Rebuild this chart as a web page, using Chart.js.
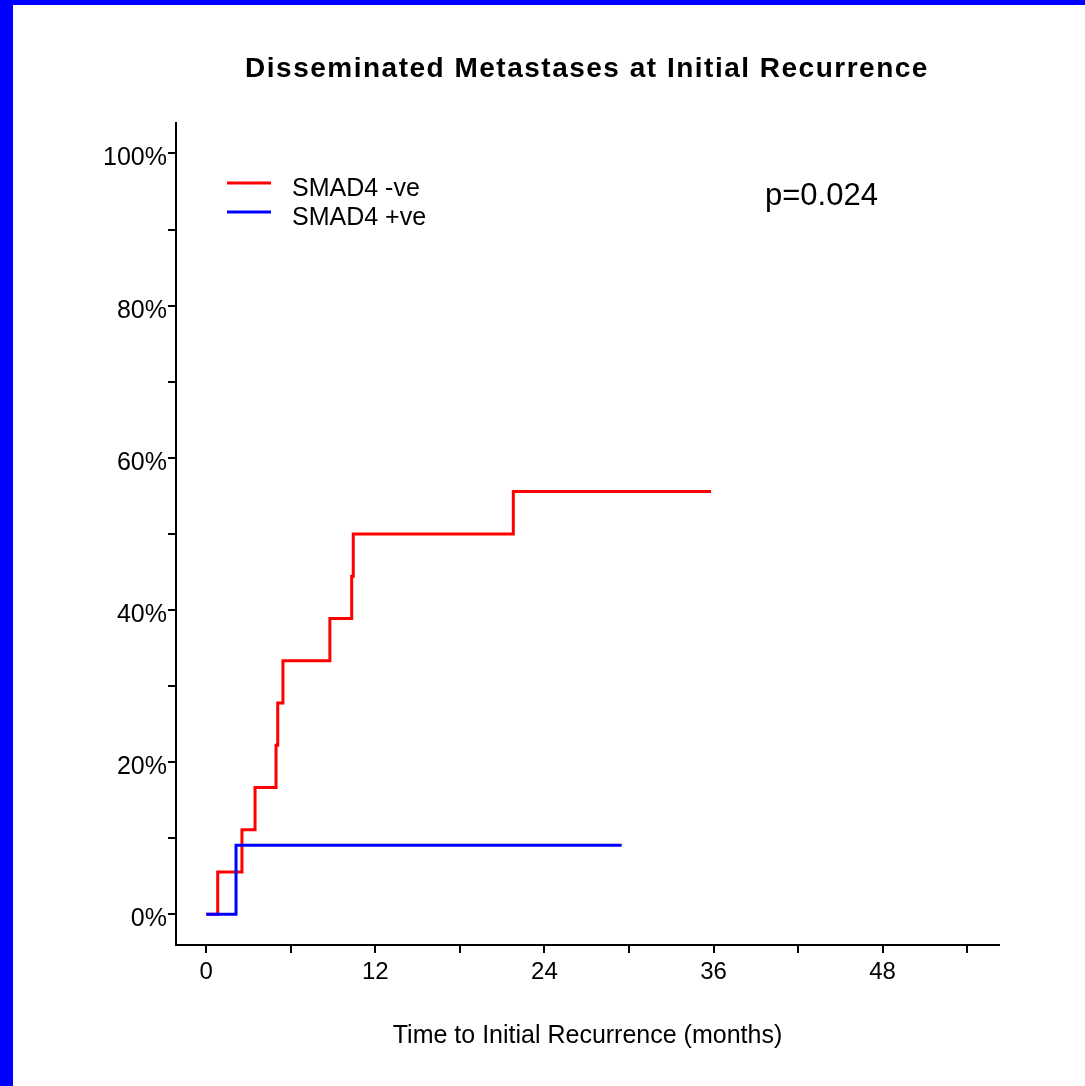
<!DOCTYPE html>
<html>
<head>
<meta charset="utf-8">
<script src="https://cdn.jsdelivr.net/npm/chart.js@4.4.1/dist/chart.umd.min.js"></script>
<style>
  html, body { margin: 0; padding: 0; background: #0000ff; }
  #wrap { position: absolute; left: 13px; top: 5px; width: 1072px; height: 1081px; background: #fff; }
</style>
</head>
<body>
<div id="wrap"><canvas id="km"></canvas></div>
<script>
// datos (meses, % acumulado)
const negTiempo = [0, 0.81, 2.53, 3.46, 4.95, 5.07, 5.44, 8.77, 10.32, 10.43, 21.79, 35.82]
const negPct = [0, 5.56, 11.11, 16.67, 22.22, 27.78, 33.33, 38.89, 44.44, 50.0, 55.56, 55.56]
const posTiempo = [0, 2.11, 29.48]
const posPct = [0, 9.09, 9.09]

const grupos = ['SMAD4 -ve', 'SMAD4 +ve']
const ticksX = [0, 6, 12, 18, 24, 30, 36, 42, 48, 54]
const etiquetasX = ['0', '', '12', '', '24', '', '36', '', '48', '']
const ticksY = [0, 10, 20, 30, 40, 50, 60, 70, 80, 90, 100]
const etiquetasY = ['0%', '', '20%', '', '40%', '', '60%', '', '80%', '', '100%']

const titulo = 'Disseminated Metastases at Initial Recurrence'
const tituloX = 'Time to Initial Recurrence (months)'
const valorP = 'p=0.024'

const fuente = '"Liberation Sans", Arial, sans-serif'

const puntos = (xs, ys) => xs.map((x, i) => ({ x: x, y: ys[i] }))

// textos extra: titulo, leyenda y valor p
const textosExtra = {
    id: 'textosExtra',
    afterDraw(chart) {
        const ctx = chart.ctx
        ctx.save()
        ctx.fillStyle = '#000'
        ctx.textBaseline = 'alphabetic'

        ctx.font = 'bold 28px ' + fuente
        ctx.letterSpacing = '1.5px'
        ctx.textAlign = 'center'
        ctx.fillText(titulo, 574, 72)
        ctx.letterSpacing = '0px'

        ctx.textAlign = 'left'
        ctx.font = '25px ' + fuente
        chart.data.datasets.forEach((ds, i) => {
            const y = 178 + i * 29
            ctx.strokeStyle = ds.borderColor
            ctx.lineWidth = 3
            ctx.beginPath()
            ctx.moveTo(214, y)
            ctx.lineTo(258, y)
            ctx.stroke()
            ctx.fillText(ds.label, 279, y + 13)
        })

        ctx.font = '31px ' + fuente
        ctx.fillText(valorP, 752, 200)
        ctx.restore()
    }
}

const config = {
    type: 'line',
    data: {
        datasets: [{
            label: grupos[0],
            data: puntos(negTiempo, negPct),
            borderColor: '#ff0000',
            borderWidth: 3,
            stepped: true,
            pointRadius: 0,
            order: 1
        }, {
            label: grupos[1],
            data: puntos(posTiempo, posPct),
            borderColor: '#0000ff',
            borderWidth: 3,
            stepped: true,
            pointRadius: 0,
            order: 0
        }]
    },
    options: {
        responsive: true,
        maintainAspectRatio: false,
        animation: false,
        layout: { padding: { top: 118, right: 86, left: 0, bottom: 0 } },
        plugins: {
            legend: { display: false },
            title: { display: false },
            tooltip: { enabled: false }
        },
        scales: {
            x: {
                type: 'linear',
                min: -2.15,
                max: 56.26,
                afterBuildTicks: s => { s.ticks = ticksX.map(v => ({ value: v })) },
                afterFit: s => { s.height = 141 },
                ticks: {
                    autoSkip: false,
                    maxRotation: 0,
                    padding: 5,
                    color: '#000',
                    font: { family: fuente, size: 24 },
                    callback: (v, i) => etiquetasX[i]
                },
                grid: { drawOnChartArea: false, drawTicks: true, tickLength: 8, color: '#000', lineWidth: 2 },
                border: { color: '#000', width: 2 },
                title: {
                    display: true,
                    text: tituloX,
                    color: '#000',
                    font: { family: fuente, size: 25 },
                    padding: { top: 0, bottom: 35 }
                }
            },
            y: {
                type: 'linear',
                min: -4.03,
                max: 104.0,
                afterBuildTicks: s => { s.ticks = ticksY.map(v => ({ value: v })) },
                afterFit: s => { s.width = 163 },
                ticks: {
                    autoSkip: false,
                    padding: 1,
                    labelOffset: 5,
                    color: '#000',
                    font: { family: fuente, size: 25 },
                    callback: (v, i) => etiquetasY[i]
                },
                grid: { drawOnChartArea: false, drawTicks: true, tickLength: 8, color: '#000', lineWidth: 2 },
                border: { color: '#000', width: 2 }
            }
        }
    },
    plugins: [textosExtra]
}

const grafico = new Chart(document.getElementById('km'), config)
</script>
</body>
</html>
